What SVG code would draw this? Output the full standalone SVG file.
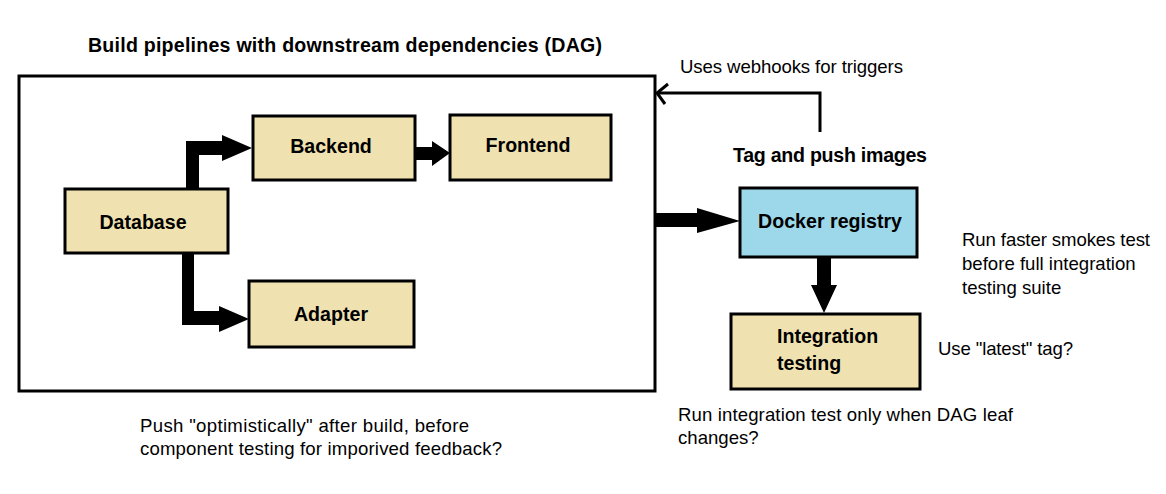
<svg xmlns="http://www.w3.org/2000/svg" width="1166" height="494" viewBox="0 0 1166 494">
  <style>
    .box { fill: #EFE2B0; stroke: #000; stroke-width: 3; }
    .blue { fill: #9DD8EA; stroke: #000; stroke-width: 3; }
    .frame { fill: none; stroke: #000; stroke-width: 3; }
    .lbl { font-family: "Liberation Sans", Arial, sans-serif; font-weight: bold; font-size: 19.6px; fill: #000; }
    .txt { font-family: "Liberation Sans", Arial, sans-serif; font-size: 18.6px; fill: #000; }
    .thick { fill: #000; stroke: none; }
    .thin { fill: none; stroke: #000; stroke-width: 3; }
  </style>
  <rect width="1166" height="494" fill="#fff"/>

  <g id="dag-frame">
    <rect class="frame" x="19" y="76" width="636" height="315"/>
    <text class="lbl" x="88" y="52" font-size="20px" textLength="514">Build pipelines with downstream dependencies (DAG)</text>
  </g>

  <g id="connectors">
    <polygon class="thick" points="186,189 186,141 222,141 222,135 252,148 222,161 222,155 199,155 199,189"/>
    <polygon class="thick" points="182,253 182,325 219,325 219,332 249,319 219,306 219,311 194,311 194,253"/>
    <polygon class="thick" points="416,147 432,147 432,141 450,153 432,166 432,160 416,160"/>
    <polygon class="thick" points="656,213 697,213 697,208 740,221 697,233 697,227 656,227"/>
    <polygon class="thick" points="817,258 831,258 831,285 837,285 824,313 811,285 817,285"/>
    <polyline class="thin" points="820,132 820,93 657,93"/>
    <polyline class="thin" points="668,84 657,93 665,104"/>
  </g>

  <g id="backend">
    <rect class="box" x="253" y="116" width="162" height="64"/>
    <text class="lbl" x="331" y="153" text-anchor="middle">Backend</text>
  </g>
  <g id="frontend">
    <rect class="box" x="450" y="115" width="161" height="65"/>
    <text class="lbl" x="528" y="152" text-anchor="middle">Frontend</text>
  </g>
  <g id="database">
    <rect class="box" x="65" y="189" width="163" height="64"/>
    <text class="lbl" x="143" y="229" text-anchor="middle">Database</text>
  </g>
  <g id="adapter">
    <rect class="box" x="249" y="281" width="165" height="66"/>
    <text class="lbl" x="331" y="321" text-anchor="middle">Adapter</text>
  </g>
  <g id="docker-registry">
    <rect class="blue" x="740" y="188" width="177" height="69"/>
    <text class="lbl" x="758" y="228" textLength="144">Docker registry</text>
  </g>
  <g id="integration-testing">
    <rect class="box" x="731" y="314" width="189" height="75"/>
    <text class="lbl" x="777" y="343">Integration</text>
    <text class="lbl" x="777" y="370">testing</text>
  </g>

  <g id="notes">
    <text class="txt" x="680" y="73" textLength="223">Uses webhooks for triggers</text>
    <text class="lbl" x="733" y="162" textLength="194">Tag and push images</text>
    <text class="txt" x="962" y="246" textLength="188">Run faster smokes test</text>
    <text class="txt" x="962" y="270">before full integration</text>
    <text class="txt" x="962" y="294">testing suite</text>
    <text class="txt" x="938" y="355" textLength="135">Use "latest" tag?</text>
    <text class="txt" x="678" y="421" textLength="335">Run integration test only when DAG leaf</text>
    <text class="txt" x="678" y="444">changes?</text>
    <text class="txt" x="140" y="432" textLength="329">Push "optimistically" after build, before</text>
    <text class="txt" x="140" y="455" textLength="362">component testing for imporived feedback?</text>
  </g>
</svg>
